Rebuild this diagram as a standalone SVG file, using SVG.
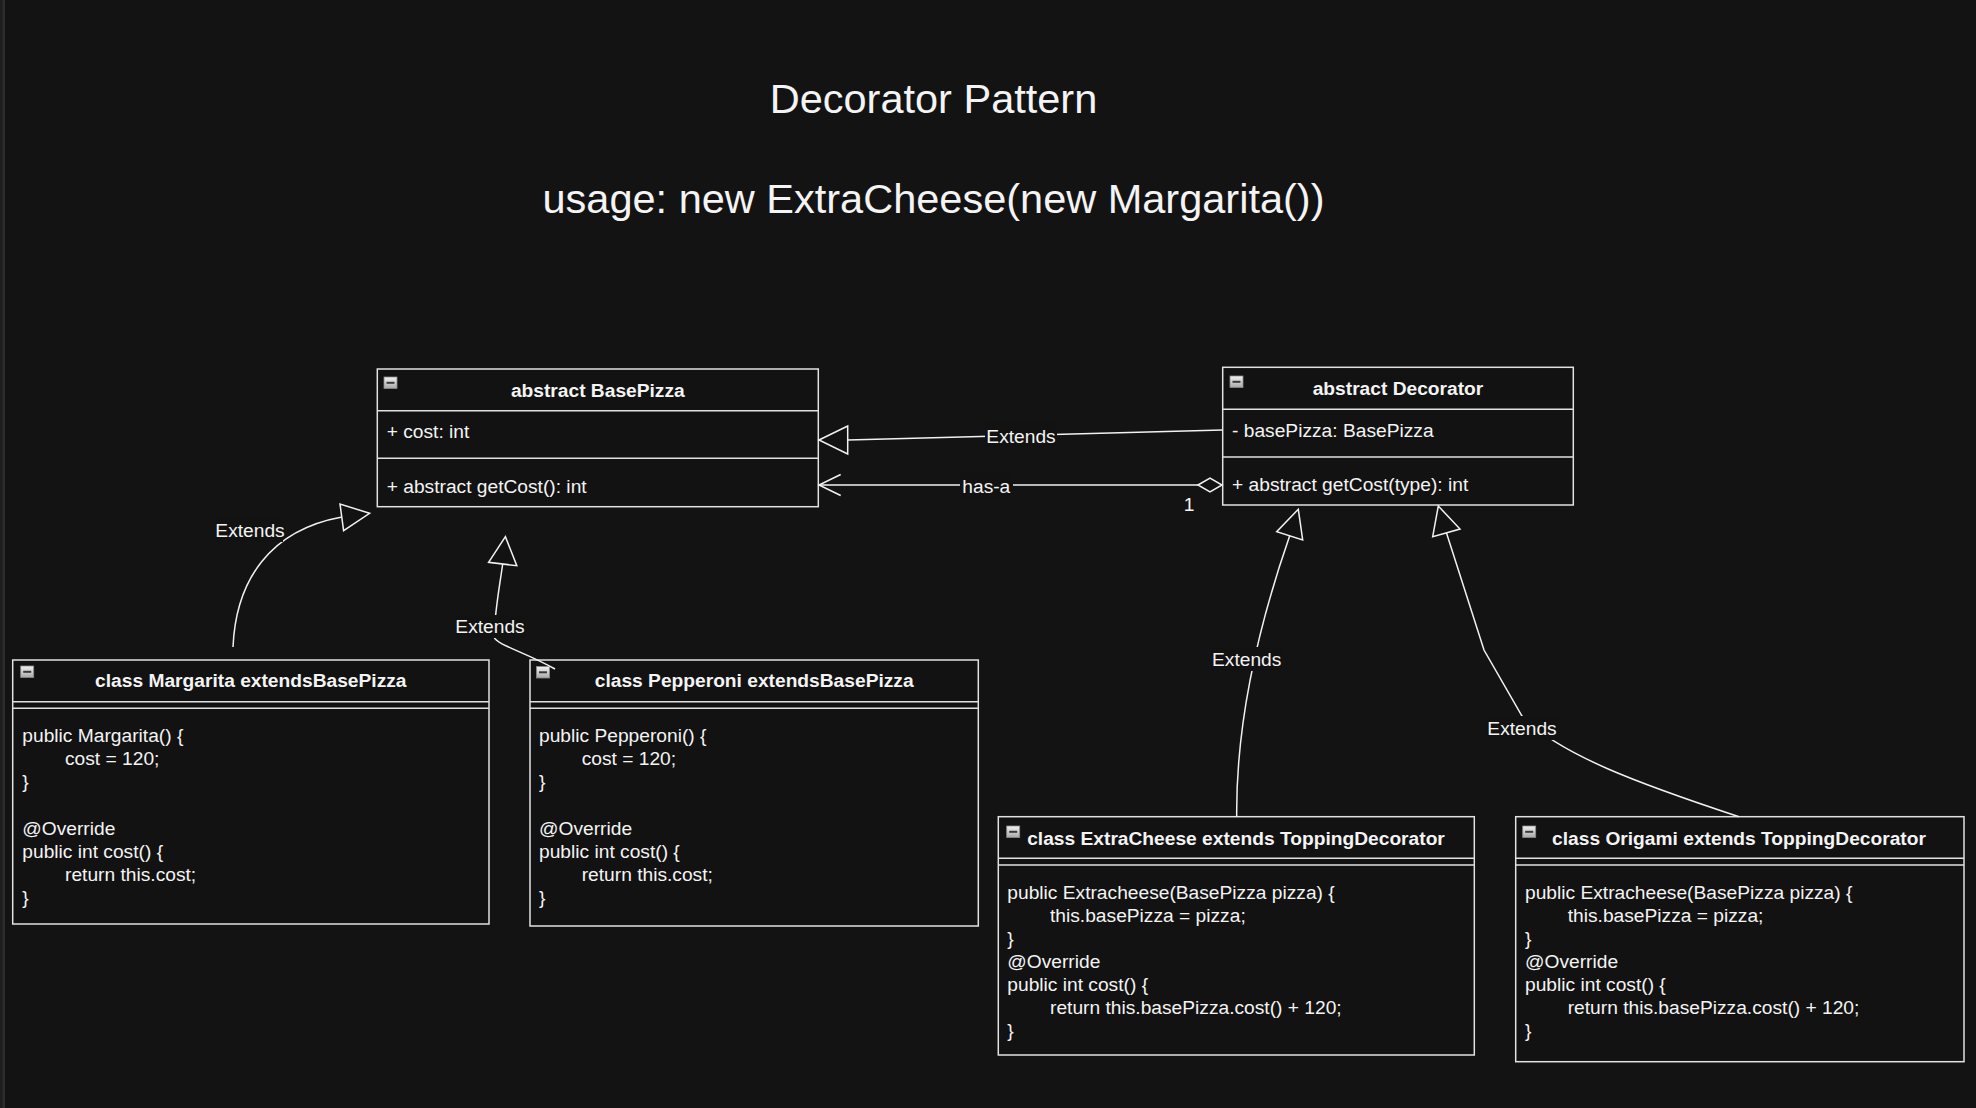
<svg xmlns="http://www.w3.org/2000/svg" width="1976" height="1108" viewBox="0 0 1976 1108">
<defs>
<style>
text{font-family:"Liberation Sans",Arial,Helvetica,sans-serif;fill:#f4f4f4;font-size:19.2px}
.title{font-size:41.5px;text-anchor:middle}
.hdr{font-weight:bold;text-anchor:middle}
.lbl{text-anchor:middle}
.box{fill:#121212;stroke:#e2e2e2;stroke-width:1.5}
.div{stroke:#e2e2e2;stroke-width:1.5;fill:none}
.edge{fill:none;stroke:#f2f2f2;stroke-width:1.5}
.tri{fill:#121212;stroke:#f2f2f2;stroke-width:1.5;stroke-linejoin:miter}
.lbg{fill:#121212}
</style>
<linearGradient id="ig" x1="0" y1="0" x2="0" y2="1">
<stop offset="0" stop-color="#f2f2f2"/>
<stop offset="1" stop-color="#a8a8a8"/>
</linearGradient>
<g id="icon">
<rect x="0" y="0" width="13" height="11.5" fill="url(#ig)" stroke="#8a8a8a" stroke-width="0.8"/>
<rect x="2.5" y="4.8" width="8" height="2" fill="#3a3a3a"/>
</g>
</defs>
<rect x="0" y="0" width="1976" height="1108" fill="#131313"/>
<rect x="0" y="0" width="2.3" height="1108" fill="#1d1d1d"/>
<rect x="2.3" y="0" width="2.7" height="1108" fill="#2c2c2c"/>

<g id="titles">
<text class="title" x="933.5" y="113.3">Decorator Pattern</text>
<text class="title" x="933.5" y="213.3">usage: new ExtraCheese(new Margarita())</text>
</g>

<g id="node-basepizza">
<rect class="box" x="377.3" y="369" width="441" height="137.7"/>
<line class="div" x1="377.3" y1="410.7" x2="818.3" y2="410.7"/>
<line class="div" x1="377.3" y1="458.3" x2="818.3" y2="458.3"/>
<use href="#icon" x="384" y="377"/>
<text class="hdr" x="597.8" y="396.7">abstract BasePizza</text>
<text x="386.7" y="438.3">+ cost: int</text>
<text x="386.7" y="492.7">+ abstract getCost(): int</text>
</g>

<g id="node-decorator">
<rect class="box" x="1222.7" y="367.3" width="350.6" height="137.7"/>
<line class="div" x1="1222.7" y1="409.3" x2="1573.3" y2="409.3"/>
<line class="div" x1="1222.7" y1="457" x2="1573.3" y2="457"/>
<use href="#icon" x="1230" y="376"/>
<text class="hdr" x="1398" y="395">abstract Decorator</text>
<text x="1232" y="436.7">- basePizza: BasePizza</text>
<text x="1232" y="491">+ abstract getCost(type): int</text>
</g>

<g id="node-margarita">
<rect class="box" x="12.7" y="660" width="476.3" height="264"/>
<line class="div" x1="12.7" y1="701.7" x2="489" y2="701.7"/>
<line class="div" x1="12.7" y1="708.3" x2="489" y2="708.3"/>
<use href="#icon" x="20.7" y="666"/>
<text class="hdr" x="250.8" y="687.3">class Margarita extendsBasePizza</text>
<text x="22.3" y="741.7">public Margarita() {</text>
<text x="65" y="764.9">cost = 120;</text>
<text x="22.3" y="788.1">}</text>
<text x="22.3" y="834.5">@Override</text>
<text x="22.3" y="857.7">public int cost() {</text>
<text x="65" y="880.9">return this.cost;</text>
<text x="22.3" y="904.1">}</text>
</g>

<g id="node-pepperoni">
<rect class="box" x="530" y="660" width="448.3" height="266"/>
<line class="div" x1="530" y1="701.7" x2="978.3" y2="701.7"/>
<line class="div" x1="530" y1="708.3" x2="978.3" y2="708.3"/>
<use href="#icon" x="536.5" y="666.5"/>
<text class="hdr" x="754.2" y="687.3">class Pepperoni extendsBasePizza</text>
<text x="539" y="741.7">public Pepperoni() {</text>
<text x="581.7" y="764.9">cost = 120;</text>
<text x="539" y="788.1">}</text>
<text x="539" y="834.5">@Override</text>
<text x="539" y="857.7">public int cost() {</text>
<text x="581.7" y="880.9">return this.cost;</text>
<text x="539" y="904.1">}</text>
</g>

<g id="node-extracheese">
<rect class="box" x="998.3" y="816.7" width="476" height="238.3"/>
<line class="div" x1="998.3" y1="858.3" x2="1474.3" y2="858.3"/>
<line class="div" x1="998.3" y1="865" x2="1474.3" y2="865"/>
<use href="#icon" x="1006.7" y="826"/>
<text class="hdr" x="1236" y="845">class ExtraCheese extends ToppingDecorator</text>
<text x="1007.3" y="899.3">public Extracheese(BasePizza pizza) {</text>
<text x="1050" y="922.2">this.basePizza = pizza;</text>
<text x="1007.3" y="945.1">}</text>
<text x="1007.3" y="968">@Override</text>
<text x="1007.3" y="990.9">public int cost() {</text>
<text x="1050" y="1013.8">return this.basePizza.cost() + 120;</text>
<text x="1007.3" y="1036.7">}</text>
</g>

<g id="node-origami">
<rect class="box" x="1515.7" y="816.7" width="448.3" height="245"/>
<line class="div" x1="1515.7" y1="858.3" x2="1964" y2="858.3"/>
<line class="div" x1="1515.7" y1="865" x2="1964" y2="865"/>
<use href="#icon" x="1522.7" y="826"/>
<text class="hdr" x="1739" y="845">class Origami extends ToppingDecorator</text>
<text x="1525" y="899.3">public Extracheese(BasePizza pizza) {</text>
<text x="1567.7" y="922.2">this.basePizza = pizza;</text>
<text x="1525" y="945.1">}</text>
<text x="1525" y="968">@Override</text>
<text x="1525" y="990.9">public int cost() {</text>
<text x="1567.7" y="1013.8">return this.basePizza.cost() + 120;</text>
<text x="1525" y="1036.7">}</text>
</g>

<g id="connectors">
<!-- Decorator extends BasePizza -->
<g id="edge-decorator-basepizza">
<line class="edge" x1="1222.7" y1="430" x2="847.7" y2="440"/>
<polygon class="tri" points="819,440 847.7,426 847.7,454"/>
<rect class="lbg" x="985" y="421" width="72" height="26"/>
<text class="lbl" x="1021" y="443">Extends</text>
</g>
<!-- has-a -->
<g id="edge-hasa">
<line class="edge" x1="1198" y1="485" x2="819" y2="485"/>
<polyline class="edge" points="840.7,474.5 819,485 840.7,495.5"/>
<polygon class="tri" points="1198,485 1210,478 1222,485 1210,492"/>
<rect class="lbg" x="960" y="472" width="53" height="26"/>
<text class="lbl" x="986.3" y="493">has-a</text>
<text class="lbl" x="1189" y="511">1</text>
</g>
<!-- Margarita extends BasePizza -->
<g id="edge-margarita">
<path class="edge" d="M 233 647 C 236 580, 270 530, 342 517"/>
<polygon class="tri" points="369.6,513.3 340,504 343.6,530.7"/>
<rect class="lbg" x="215" y="518" width="68" height="24"/>
<text class="lbl" x="250" y="536.7">Extends</text>
</g>
<!-- Pepperoni extends BasePizza -->
<g id="edge-pepperoni">
<path class="edge" d="M 555 669 C 525 652, 497 645, 494 637 C 495 610, 499 590, 502.7 564"/>
<polygon class="tri" points="505.4,536.7 488.6,562.3 516.8,565.7"/>
<rect class="lbg" x="455" y="615" width="70" height="23"/>
<text class="lbl" x="490" y="632.7">Extends</text>
</g>
<!-- ExtraCheese extends Decorator -->
<g id="edge-extracheese">
<path class="edge" d="M 1236.7 816.7 C 1236 740, 1250 650, 1289.7 535.8"/>
<polygon class="tri" points="1298.3,509.3 1276.7,531.7 1302.7,540"/>
<rect class="lbg" x="1211" y="647" width="71" height="24"/>
<text class="lbl" x="1246.7" y="665.7">Extends</text>
</g>
<!-- Origami extends Decorator -->
<g id="edge-origami">
<path class="edge" d="M 1739 816.7 C 1640 784, 1560 755, 1522 716 L 1484 650 L 1446.5 533"/>
<polygon class="tri" points="1438.3,506 1432.7,536.7 1460,529"/>
<rect class="lbg" x="1486" y="716" width="72" height="24"/>
<text class="lbl" x="1522" y="735">Extends</text>
</g>
</g>
</svg>
